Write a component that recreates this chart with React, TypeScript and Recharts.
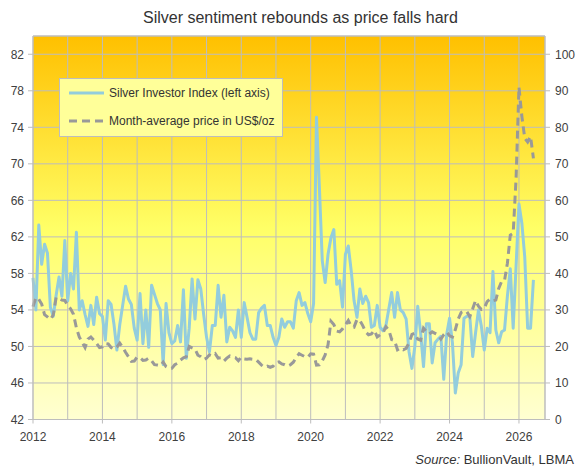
import { LineChart, Line, XAxis, YAxis, CartesianGrid, Legend, ReferenceLine } from 'recharts'

// Silver Investor Index, monthly from Jan 2012 (left axis)
const INDEX_VALUES = [
  57.5, 54, 63.3, 59, 61.2, 60.2, 54.3, 53.3, 55.6, 57.6, 55.5, 61.6, // 2012
  55, 58, 56.3, 62.5, 54, 55, 53.5, 52.2, 54.5, 52.4, 55.4, 53.6, // 2013
  53.3, 50.7, 55, 54.6, 52.4, 49.6, 52.4, 54.5, 56.6, 55.2, 54.6, 52, // 2014
  50.7, 55.8, 50.3, 54, 49.9, 56.7, 55.7, 54.7, 54, 48, 54.7, 51.5, // 2015
  50.3, 50.6, 52.3, 50.5, 56.2, 48.7, 52, 57.4, 53, 57.3, 56.3, 53.5, // 2016
  51, 49.4, 52.3, 52.3, 56.7, 53.2, 55.6, 50.5, 52.1, 51.7, 51, 54, // 2017
  51, 54.8, 53.2, 51.5, 50.8, 50.8, 53.7, 54.2, 54.5, 52.3, 52.3, 51, // 2018
  50.1, 51, 53, 52.1, 52.7, 52.7, 52, 55, 55.9, 54.5, 54.8, 53.6, // 2019
  52.7, 54.7, 75.1, 67.5, 59.4, 57, 60.1, 61.9, 62.8, 56.8, 57.2, 54.3, // 2020
  60.1, 61, 58.3, 55, 53.2, 56.3, 54.7, 55.5, 54.8, 52.1, 52.3, 54.5, // 2021
  52.1, 51.7, 52.3, 54.1, 55.9, 53.2, 55.9, 54, 53.7, 53, 49.4, 47.6, // 2022
  50, 54.4, 51.5, 47.8, 52.5, 52.5, 48.2, 50.4, 50.8, 51.1, 46.4, 51.3, // 2023
  53.1, 50.4, 44.9, 47.1, 48, 53.1, 53.3, 53.3, 48.9, 51.5, 54, 52.2, // 2024
  49.6, 52, 51.5, 58.2, 51.8, 50.4, 51.6, 51.8, 55.5, 58.5, 52, 58.8, // 2025
  65.6, 63.5, 59.8, 52, 52, 57.3, // 2026
]

// Month-average silver price, US$/oz (right axis)
const PRICE_VALUES = [
  30.9, 33.4, 32.9, 31.6, 28.7, 28.1, 27.4, 28.6, 33.4, 33.2, 32.7, 32.6, // 2012
  31.2, 30.3, 28.8, 25.1, 22.6, 21.1, 19.7, 22, 22.6, 21.7, 20.8, 19.7, // 2013
  19.9, 20.8, 20.7, 19.7, 19.3, 19.8, 20.9, 19.8, 18.4, 17.2, 15.9, 16, // 2014
  17.1, 16.9, 16.2, 16.3, 16.8, 16.1, 15, 14.9, 14.7, 15.7, 14.5, 14, // 2015
  14, 15, 15.4, 16.3, 16.9, 17.2, 20, 19.6, 19.3, 17.6, 17.2, 16.4, // 2016
  16.8, 17.7, 17.4, 18, 16.8, 16.9, 16, 16.8, 17.4, 17, 16.9, 16.1, // 2017
  17.1, 16.6, 16.5, 16.6, 16.5, 16.5, 15.7, 14.9, 14.3, 14.6, 14.3, 14.6, // 2018
  15.6, 15.8, 15.2, 15, 14.6, 15, 15.7, 17, 18, 17.6, 17.2, 17, // 2019
  18, 17.9, 14.9, 15, 16, 17.7, 20.5, 26.9, 26, 24.2, 24, 24.8, // 2020
  25.9, 27.1, 25.6, 25.3, 27.4, 27.1, 25.7, 24, 23.2, 23.4, 24.4, 22.6, // 2021
  23.2, 23.7, 25.4, 24.5, 21.9, 21.6, 19.1, 19.6, 19.1, 19.5, 21, 23.3, // 2022
  23.6, 22, 21.7, 25, 24.1, 23.4, 24, 23.6, 23.2, 22, 23.2, 24, // 2023
  22.9, 22.6, 24.6, 27.5, 29.3, 29.7, 29.5, 28.2, 30.3, 32.6, 31, 30.1, // 2024
  30.4, 32.3, 33, 32.5, 32.7, 35.9, 37.8, 38, 42.8, 50.5, 51, 66, // 2025
  91, 83, 77, 76, 77.5, 71.5, // 2026
]

const YEAR_TICKS = [0, 24, 48, 72, 96, 120, 144, 168]
const YEAR_LABELS = ['2012', '2014', '2016', '2018', '2020', '2022', '2024', '2026']
const GRID_TICKS = [0, 12, 24, 36, 48, 60, 72, 84, 96, 108, 120, 132, 144, 156, 168]
const LEFT_TICKS = [42, 46, 50, 54, 58, 62, 66, 70, 74, 78, 82]
const RIGHT_TICKS = [0, 10, 20, 30, 40, 50, 60, 70, 80, 90, 100]

const data = INDEX_VALUES.map((v, i) => ({ m: i, index: v, price: PRICE_VALUES[i] }))

const FONT = 'Arial, "Liberation Sans", sans-serif'
const GRID = '#BDBDBD'
const TEXT = '#404040'
const INDEX_COLOR = '#93CDDD'
const PRICE_COLOR = '#999999'
const PRICE_DASH = '8 5'

const tickStyle = { fontSize: 12, fill: TEXT, fontFamily: FONT }

function LegendBox({ payload }: any) {
  return (
    <div
      style={{
        width: 224,
        height: 59,
        boxSizing: 'border-box',
        background: '#FFFF99',
        border: `1px solid ${GRID}`,
        fontFamily: FONT,
        fontSize: 12,
        color: '#333',
      }}
    >
      {(payload || []).map((entry: any) => (
        <div key={entry.dataKey} style={{ display: 'flex', alignItems: 'center', height: 28.5, whiteSpace: 'nowrap' }}>
          <svg width={35} height={8} style={{ marginLeft: 9, marginRight: 5, flex: 'none' }}>
            <line
              x1={0}
              y1={4}
              x2={35}
              y2={4}
              stroke={entry.color}
              strokeWidth={3}
              strokeDasharray={entry.dataKey === 'price' ? PRICE_DASH : undefined}
            />
          </svg>
          <span>{entry.value}</span>
        </div>
      ))}
    </div>
  )
}

export default function App() {
  return (
    <div style={{ position: 'absolute', left: 0, top: 0, width: 578, height: 471, background: '#fff', fontFamily: FONT }}>
      <LineChart width={578} height={471} data={data} margin={{ top: 36, right: 0, bottom: 29.5, left: 5 }}>
        <defs>
          <linearGradient id="plotBg" x1="0" y1="0" x2="0" y2="1">
            <stop offset="0%" stopColor="#FFC000" />
            <stop offset="50%" stopColor="#FFFF66" />
            <stop offset="100%" stopColor="#FFFFD2" />
          </linearGradient>
        </defs>
        <CartesianGrid xAxisId="grid" yAxisId="left" stroke={GRID} fill="url(#plotBg)" fillOpacity={1} />
        <XAxis
          xAxisId="year"
          type="number"
          dataKey="m"
          domain={[0, 177]}
          ticks={YEAR_TICKS}
          tickFormatter={(v: number) => YEAR_LABELS[YEAR_TICKS.indexOf(v)] ?? ''}
          tick={tickStyle}
          height={22}
          tickSize={4}
          tickMargin={9}
          axisLine={{ stroke: GRID }}
          tickLine={{ stroke: GRID }}
        />
        <XAxis xAxisId="grid" type="number" dataKey="m" domain={[0, 177]} ticks={GRID_TICKS} height={0} hide />
        <YAxis
          yAxisId="left"
          domain={[42, 84]}
          ticks={LEFT_TICKS}
          allowDataOverflow
          width={28}
          tick={tickStyle}
          tickSize={5}
          tickMargin={4}
          axisLine={{ stroke: GRID }}
          tickLine={{ stroke: GRID }}
        />
        <YAxis
          yAxisId="right"
          orientation="right"
          domain={[0, 105]}
          ticks={RIGHT_TICKS}
          allowDataOverflow
          width={33}
          tick={{ ...tickStyle, textAnchor: 'start' }}
          tickSize={5}
          tickMargin={5}
          axisLine={{ stroke: GRID }}
          tickLine={{ stroke: GRID }}
        />
        <ReferenceLine xAxisId="grid" yAxisId="left" y={84} stroke={GRID} />
        <Legend
          layout="horizontal"
          verticalAlign="middle"
          align="center"
          itemSorter="dataKey"
          width={224}
          height={59}
          wrapperStyle={{ left: 59, top: 77.5, width: 224, height: 59 }}
          content={<LegendBox />}
        />
        <Line
          xAxisId="year"
          yAxisId="left"
          dataKey="index"
          name="Silver Investor Index (left axis)"
          type="linear"
          stroke={INDEX_COLOR}
          strokeWidth={3}
          strokeLinejoin="round"
          dot={false}
          activeDot={false}
          isAnimationActive={false}
        />
        <Line
          xAxisId="grid"
          yAxisId="right"
          dataKey="price"
          name="Month-average price in US$/oz"
          type="linear"
          stroke={PRICE_COLOR}
          strokeWidth={3}
          strokeDasharray={PRICE_DASH}
          dot={false}
          activeDot={false}
          isAnimationActive={false}
        />
      </LineChart>
      <div style={{ position: 'absolute', left: 143, top: 9, fontSize: 16, color: '#333', whiteSpace: 'nowrap' }}>
        Silver sentiment rebounds as price falls hard
      </div>
      <div style={{ position: 'absolute', right: 4, top: 452, fontSize: 13, color: '#333', whiteSpace: 'nowrap' }}>
        <i>Source:</i> BullionVault, LBMA
      </div>
    </div>
  )
}
